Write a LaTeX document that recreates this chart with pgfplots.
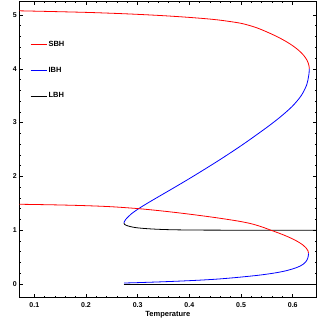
\documentclass[border=0pt]{standalone}
\usepackage{pgfplots}
\pgfplotsset{compat=1.18}
\usepackage{fontspec}
\setmainfont{Liberation Sans}
\begin{document}
\begin{tikzpicture}
\begin{axis}[
  scale only axis,
  width=297.2pt, height=296.2pt,
  xmin=0.071, xmax=0.646,
  ymin=-0.254, ymax=5.25,
  xtick={0.1,0.2,0.3,0.4,0.5,0.6},
  xticklabels={0.1,0.2,0.3,0.4,0.5,0.6},
  ytick={0,1,2,3,4,5},
  yticklabels={0,1,2,3,4,5},
  minor x tick num=4,
  minor y tick num=4,
  major tick length=3.5pt,
  minor tick length=2pt,
  tick style={black, line width=0.5pt},
  axis line style={line width=0.7pt},
  ticklabel style={font=\fontsize{7}{8}\selectfont\bfseries},
  xticklabel style={yshift=-1pt},
  yticklabel style={xshift=1pt},
  xlabel={\fontsize{7.5}{9}\selectfont\bfseries Temperature},
  xlabel style={yshift=3pt},
  legend cell align=left,
  legend style={draw=none, fill=none, font=\fontsize{7.5}{9}\selectfont\bfseries,
    at={(axis cs:0.086,4.58)}, anchor=north west, row sep=16pt,
    nodes={inner sep=1.5pt}},
  legend image code/.code={\draw[#1] (0pt,0pt) -- (16pt,0pt);},
  every axis plot/.append style={line width=0.8pt, smooth, tension=0.5},
]
% SBH upper
\addplot[red] coordinates {
(0.071,5.077) (0.10,5.071) (0.15,5.06) (0.21,5.045) (0.28,5.02) (0.343,4.99)
(0.392,4.96) (0.432,4.93) (0.462,4.90) (0.497,4.85) (0.518,4.80) (0.5336,4.75)
(0.5462,4.70) (0.5581,4.65) (0.569,4.60) (0.5791,4.55) (0.5883,4.50) (0.5966,4.45)
(0.604,4.40) (0.6106,4.35) (0.6163,4.30) (0.6211,4.25) (0.625,4.20) (0.6281,4.15)
(0.6302,4.10) (0.6316,4.05) (0.632,4.0)};
\addlegendentry{SBH}
% IBH upper
\addplot[blue] coordinates {
(0.632,4.0) (0.6317,3.93) (0.6305,3.85) (0.627,3.7) (0.6164,3.5) (0.5989,3.3)
(0.5754,3.1) (0.5484,2.9) (0.5046,2.6) (0.4574,2.3) (0.4071,2.0) (0.3721,1.8)
(0.3363,1.6) (0.3186,1.5) (0.3018,1.4) (0.2873,1.3) (0.2768,1.2) (0.2743,1.16) (0.2735,1.13)};
\addlegendentry{IBH}
% LBH upper
\addplot[black] coordinates {
(0.2735,1.13) (0.2745,1.11) (0.277,1.095) (0.281,1.08) (0.287,1.065) (0.295,1.05)
(0.307,1.037) (0.324,1.025) (0.345,1.015) (0.37,1.008) (0.41,1.003) (0.47,1.001)
(0.55,1.0) (0.646,1.0)};
\addlegendentry{LBH}
% SBH lower
\addplot[red, forget plot] coordinates {
(0.071,1.482) (0.10,1.478) (0.15,1.469) (0.20,1.456) (0.25,1.436) (0.30,1.402)
(0.34,1.365) (0.38,1.322) (0.42,1.274) (0.45,1.235) (0.48,1.192) (0.50,1.16)
(0.52,1.12) (0.54,1.063) (0.5578,1.0) (0.5665,0.97) (0.5803,0.92) (0.5927,0.87)
(0.6036,0.82) (0.6129,0.77) (0.6204,0.72) (0.6259,0.67) (0.6294,0.62) (0.6305,0.57)};
% IBH lower
\addplot[blue, forget plot] coordinates {
(0.6305,0.57) (0.6302,0.53) (0.6294,0.49) (0.6278,0.45) (0.625,0.41) (0.6205,0.37)
(0.6135,0.33) (0.606,0.30) (0.596,0.27) (0.584,0.24) (0.568,0.21) (0.551,0.185)
(0.537,0.167) (0.517,0.146) (0.485,0.116) (0.453,0.091) (0.42,0.072) (0.38,0.054)
(0.343,0.040) (0.30,0.026) (0.274,0.019)};
% LBH lower
\addplot[black, forget plot, sharp plot] coordinates {
(0.273,0.0) (0.646,0.0)};
\node[rotate=90, font=\fontsize{7}{8}\selectfont\bfseries] at ([xshift=-14pt]axis cs:0.071,4.04) {Ω\textsubscript{U}};
\node[rotate=90, font=\fontsize{7}{8}\selectfont\bfseries] at ([xshift=-13pt]axis cs:0.071,0.95) {Ω\textsubscript{L}};
\end{axis}
\pgfresetboundingbox
\path ([shift={(-19.3pt,-25.3pt)}]current axis.south west) rectangle ([shift={(2.5pt,1.5pt)}]current axis.north east);
\end{tikzpicture}
\end{document}
